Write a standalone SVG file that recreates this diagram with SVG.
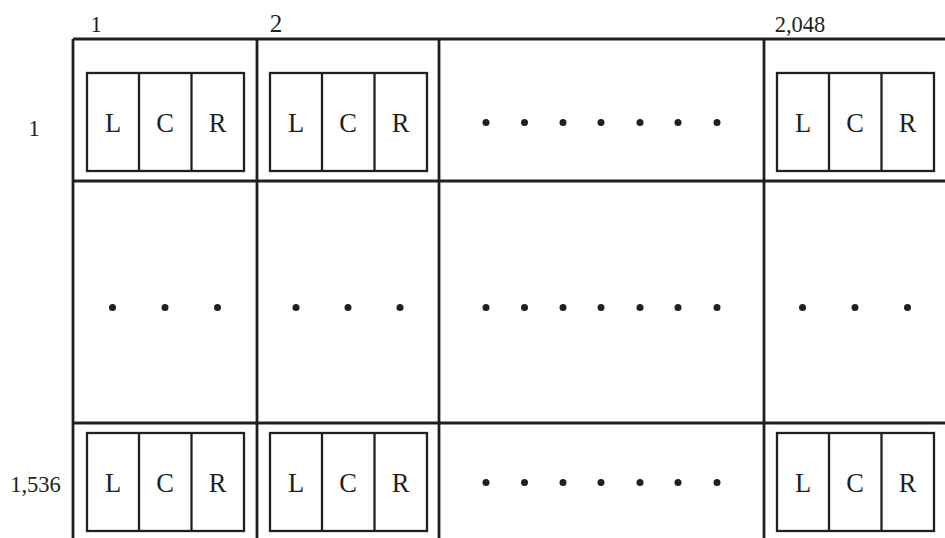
<svg xmlns="http://www.w3.org/2000/svg" width="945" height="538" viewBox="0 0 945 538">
<style>
.grid{stroke:#231f20;stroke-width:2.8;fill:none}
.box{stroke:#231f20;stroke-width:2.3;fill:none}
.t{font-family:"Liberation Serif","Times New Roman",serif;fill:#231f20;text-anchor:middle}
.lcr{font-size:26.5px}
.num{font-size:22.5px}
.dot{fill:#231f20}
</style>
<defs>
<g id="lcr">
<rect class="box" x="0" y="0" width="157" height="98"/>
<line class="box" x1="52" y1="0" x2="52" y2="98"/>
<line class="box" x1="104.5" y1="0" x2="104.5" y2="98"/>
<text class="t lcr" x="26" y="59">L</text>
<text class="t lcr" x="78" y="59">C</text>
<text class="t lcr" x="130.5" y="59">R</text>
</g>
<circle id="d" r="3.5"/>
</defs>
<rect width="945" height="538" fill="#fff"/>
<g id="connectors">
<line class="grid" x1="73" y1="39" x2="945" y2="39"/>
<line class="grid" x1="73" y1="181" x2="945" y2="181"/>
<line class="grid" x1="73" y1="423" x2="945" y2="423"/>
<line class="grid" x1="73" y1="39" x2="73" y2="538"/>
<line class="grid" x1="257" y1="39" x2="257" y2="538"/>
<line class="grid" x1="439" y1="39" x2="439" y2="538"/>
<line class="grid" x1="764" y1="39" x2="764" y2="538"/>
</g>
<g id="labels">
<text class="t num" x="96" y="32">1</text>
<text class="t" style="font-size:25px" x="276" y="32">2</text>
<text class="t num" x="800" y="32">2,048</text>
<text class="t num" x="34" y="136">1</text>
<text class="t num" x="35.5" y="492">1,536</text>
</g>
<g id="r1c1"><use href="#lcr" x="87" y="73"/></g>
<g id="r1c2"><use href="#lcr" x="270" y="73"/></g>
<g id="r1c3" class="dot">
<use href="#d" x="486" y="122.5"/><use href="#d" x="524.5" y="122.5"/><use href="#d" x="563" y="122.5"/><use href="#d" x="601" y="122.5"/><use href="#d" x="640" y="122.5"/><use href="#d" x="678" y="122.5"/><use href="#d" x="717" y="122.5"/>
</g>
<g id="r1c4"><use href="#lcr" x="777" y="73"/></g>
<g id="r2c1" class="dot">
<use href="#d" x="112.5" y="307.5"/><use href="#d" x="165" y="307.5"/><use href="#d" x="217.5" y="307.5"/>
</g>
<g id="r2c2" class="dot">
<use href="#d" x="296" y="307.5"/><use href="#d" x="348" y="307.5"/><use href="#d" x="400" y="307.5"/>
</g>
<g id="r2c3" class="dot">
<use href="#d" x="486" y="307.5"/><use href="#d" x="524.5" y="307.5"/><use href="#d" x="563" y="307.5"/><use href="#d" x="601" y="307.5"/><use href="#d" x="640" y="307.5"/><use href="#d" x="678" y="307.5"/><use href="#d" x="717" y="307.5"/>
</g>
<g id="r2c4" class="dot">
<use href="#d" x="802.5" y="307.5"/><use href="#d" x="855" y="307.5"/><use href="#d" x="907.5" y="307.5"/>
</g>
<g id="r3c1"><use href="#lcr" x="87" y="433"/></g>
<g id="r3c2"><use href="#lcr" x="270" y="433"/></g>
<g id="r3c3" class="dot">
<use href="#d" x="486" y="482.5"/><use href="#d" x="524.5" y="482.5"/><use href="#d" x="563" y="482.5"/><use href="#d" x="601" y="482.5"/><use href="#d" x="640" y="482.5"/><use href="#d" x="678" y="482.5"/><use href="#d" x="717" y="482.5"/>
</g>
<g id="r3c4"><use href="#lcr" x="777" y="433"/></g>
</svg>
